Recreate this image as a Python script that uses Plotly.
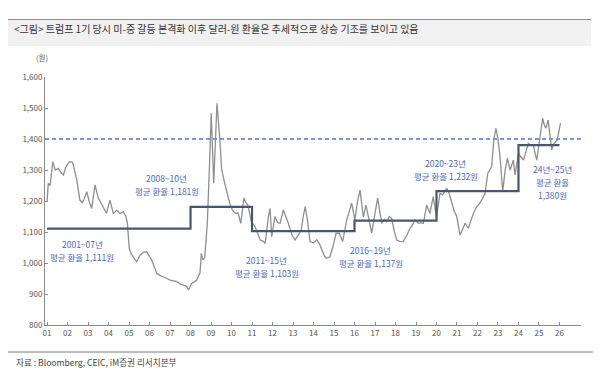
import plotly.graph_objects as go

# ---- data ----
fx_time = [
    2001.00, 2001.06, 2001.15, 2001.28, 2001.40, 2001.55, 2001.70, 2001.80, 2001.92,
    2002.09, 2002.25, 2002.35, 2002.45, 2002.60, 2002.72, 2002.80, 2002.94,
    2003.05, 2003.18, 2003.34, 2003.42, 2003.50, 2003.62, 2003.73, 2003.90,
    2004.07, 2004.15, 2004.23, 2004.40, 2004.56, 2004.72, 2004.85, 2004.92,
    2005.01, 2005.10, 2005.20, 2005.37, 2005.54, 2005.70, 2005.86,
    2006.00, 2006.10, 2006.25, 2006.35, 2006.50, 2006.67, 2006.85,
    2007.00, 2007.15, 2007.33, 2007.50, 2007.65, 2007.80, 2007.90,
    2008.06, 2008.20, 2008.30, 2008.40, 2008.46, 2008.53, 2008.60, 2008.69, 2008.82, 2008.94,
    2009.01, 2009.13, 2009.22, 2009.29, 2009.42, 2009.52, 2009.67, 2009.80, 2009.91,
    2010.05, 2010.20, 2010.32, 2010.45, 2010.61, 2010.70, 2010.80, 2010.97,
    2011.15, 2011.30, 2011.40, 2011.55, 2011.64, 2011.80, 2011.88, 2011.96,
    2012.12, 2012.25, 2012.37, 2012.53, 2012.65, 2012.77, 2012.95,
    2013.10, 2013.25, 2013.40, 2013.50, 2013.59, 2013.70, 2013.83,
    2014.00, 2014.16, 2014.30, 2014.40, 2014.55, 2014.64, 2014.80, 2014.97,
    2015.10, 2015.26, 2015.42, 2015.62, 2015.75, 2015.86,
    2016.02, 2016.15, 2016.27, 2016.43, 2016.56, 2016.70, 2016.84,
    2017.00, 2017.13, 2017.25, 2017.33, 2017.45, 2017.57, 2017.70, 2017.81, 2017.95,
    2018.06, 2018.20, 2018.38, 2018.55, 2018.71, 2018.85, 2018.95,
    2019.11, 2019.25, 2019.36, 2019.52, 2019.68, 2019.84,
    2020.00, 2020.17, 2020.30, 2020.50, 2020.62, 2020.74, 2020.85, 2020.99,
    2021.15, 2021.28, 2021.40, 2021.55, 2021.68, 2021.80, 2021.96,
    2022.08, 2022.20, 2022.37, 2022.50, 2022.60, 2022.69, 2022.80, 2022.90,
    2023.00, 2023.10, 2023.23, 2023.35, 2023.46, 2023.59, 2023.75, 2023.83,
    2024.00, 2024.08, 2024.25, 2024.35, 2024.48, 2024.60, 2024.72, 2024.89,
    2025.05, 2025.18, 2025.26, 2025.34, 2025.45, 2025.55, 2025.62, 2025.73, 2025.89, 2026.05,
]
fx_krw = [
    1198, 1257, 1250, 1327, 1300, 1305, 1290, 1284, 1310,
    1327, 1325, 1300, 1268, 1203, 1195, 1205, 1230,
    1200, 1176, 1252, 1225, 1210, 1195, 1182, 1160,
    1203, 1180, 1160, 1170, 1160, 1165, 1150, 1128,
    1047, 1030, 1020, 1004, 1025, 1035, 1036,
    1020, 1010, 985, 967, 960, 956, 950,
    945, 942, 940, 932, 929, 925, 913,
    935, 940, 945, 960, 967, 1031, 1010, 1016, 1129, 1343,
    1483, 1257, 1420, 1515, 1408, 1300, 1257, 1220, 1193,
    1170, 1160, 1161, 1128, 1210, 1195, 1187, 1133,
    1117, 1090, 1074, 1070, 1063, 1150, 1176, 1085,
    1150, 1130, 1128, 1171, 1150, 1128, 1090,
    1074, 1090, 1106, 1150, 1182, 1140, 1069,
    1065, 1075, 1060, 1042, 1020, 1015, 1020, 1058,
    1096, 1096, 1069, 1139, 1170, 1193,
    1139, 1200, 1235, 1149, 1187, 1140, 1096,
    1160, 1209, 1160, 1128, 1140, 1133, 1150, 1144, 1100,
    1074, 1070, 1069, 1090, 1112, 1125, 1139,
    1128, 1130, 1128, 1187, 1160, 1214,
    1149, 1225, 1220, 1241, 1225, 1193, 1170, 1149,
    1090, 1110, 1128, 1112, 1140, 1160, 1182,
    1190, 1203, 1225, 1289, 1300, 1310, 1400, 1434,
    1400, 1343, 1230, 1300, 1338, 1300, 1332, 1284,
    1354, 1345, 1332, 1360, 1386, 1380, 1380, 1332,
    1408, 1467, 1445, 1435, 1461, 1400, 1365, 1385, 1397, 1451,
]

avg_start = [2001, 2008, 2011, 2016, 2020, 2024, 2026]
avg_level = [1111, 1181, 1103, 1137, 1232, 1380, 1380]

ref_level = 1400

year_ticks = list(range(2001, 2027))
year_labels = ["%02d" % (y % 100) for y in year_ticks]
y_ticks = [800, 900, 1000, 1100, 1200, 1300, 1400, 1500, 1600]

period_labels = ["2001~07년", "2008~10년", "2011~15년", "2016~19년", "2020~23년"]
period_avgs = ["평균 환율 1,111원", "평균 환율 1,181원", "평균 환율 1,103원",
               "평균 환율 1,137원", "평균 환율 1,232원"]
period_lx = [2002.71, 2006.85, 2011.73, 2016.80, 2020.46]
period_ly = [1061, 1274, 1010, 1042, 1323]

title_text = "&lt;그림&gt; 트럼프 1기 당시 미-중 갈등 본격화 이후 달러-원 환율은 추세적으로 상승 기조를 보이고 있음"
source_text = "자료 : Bloomberg, CEIC, iM증권 리서치본부"

# ---- layout helpers ----
W, H = 599, 382
L, R, T, B = 45, 18, 77, 57
PW, PH = W - L - R, H - T - B


def px(x):
    return (x - L) / PW


def py(y):
    return (H - B - y) / PH


FONT = "Noto Sans CJK KR, Noto Sans, sans-serif"
BLUE = "#4a68c4"

fig = go.Figure()
fig.add_trace(go.Scatter(x=[2000.9, 2027.05], y=[ref_level, ref_level], mode="lines",
                         line=dict(color="#4e72d6", width=1.6, dash="4px,3px"),
                         hoverinfo="skip", showlegend=False))
fig.add_trace(go.Scatter(x=fx_time, y=fx_krw, mode="lines",
                         line=dict(color="#8f8f8f", width=1.3),
                         showlegend=False))
fig.add_trace(go.Scatter(x=avg_start, y=avg_level, mode="lines", line_shape="hv",
                         line=dict(color="#4a5670", width=2.2),
                         showlegend=False))

ann = []
for lab, avg, x, y in zip(period_labels, period_avgs, period_lx, period_ly):
    ann.append(dict(x=x, y=y, text=lab, showarrow=False, font=dict(size=8.5, color=BLUE, family=FONT)))
    ann.append(dict(x=x, y=y - 42, text=avg, showarrow=False, font=dict(size=8.5, color=BLUE, family=FONT)))
ann.append(dict(x=2025.68, y=1303, text="24년~25년", showarrow=False, font=dict(size=8.5, color=BLUE, family=FONT)))
ann.append(dict(x=2025.68, y=1261, text="평균 환율", showarrow=False, font=dict(size=8.5, color=BLUE, family=FONT)))
ann.append(dict(x=2025.68, y=1219, text="1,380원", showarrow=False, font=dict(size=8.5, color=BLUE, family=FONT)))

ann.append(dict(xref="paper", yref="paper", x=px(12), y=py(29), xanchor="left", yanchor="middle",
                text=title_text, showarrow=False, font=dict(size=10, color="#333333", family=FONT)))
ann.append(dict(xref="paper", yref="paper", x=px(42), y=py(58), xanchor="center", yanchor="middle",
                text="(원)", showarrow=False, font=dict(size=7.5, color="#555555", family=FONT)))
ann.append(dict(xref="paper", yref="paper", x=px(14), y=py(362), xanchor="left", yanchor="middle",
                text=source_text, showarrow=False, font=dict(size=8.6, color="#444444", family=FONT)))

shapes = [
    dict(type="rect", xref="paper", yref="paper", x0=px(8), x1=px(591), y0=py(46), y1=py(19.5),
         fillcolor="#f1f1f1", line=dict(width=0), layer="below"),
    dict(type="line", xref="paper", yref="paper", x0=px(8), x1=px(591), y0=py(19.5), y1=py(19.5),
         line=dict(color="#8a8a8a", width=1)),
    dict(type="line", xref="paper", yref="paper", x0=px(8), x1=px(593), y0=py(352), y1=py(352),
         line=dict(color="#7a7a7a", width=1)),
]

fig.update_layout(
    width=W, height=H,
    margin=dict(l=L, r=R, t=T, b=B),
    paper_bgcolor="white", plot_bgcolor="white",
    font=dict(family=FONT, size=8, color="#555555"),
    annotations=ann, shapes=shapes,
    xaxis=dict(range=[2000.9, 2027.05], tickvals=year_ticks, ticktext=year_labels,
               showgrid=False, zeroline=False, showline=True, linecolor="#8a8a8a", linewidth=1,
               ticks="inside", ticklen=3, tickcolor="#8a8a8a",
               tickfont=dict(size=8, color="#555555")),
    yaxis=dict(range=[800, 1600], tickvals=y_ticks, tickformat=",",
               showgrid=False, zeroline=False, showline=True, linecolor="#8a8a8a", linewidth=1,
               ticks="inside", ticklen=3, tickcolor="#8a8a8a",
               tickfont=dict(size=8, color="#555555")),
)

fig.write_html("out.html", config={"displayModeBar": False},
               post_script="document.body.style.margin='0';document.body.style.overflow='hidden';")
